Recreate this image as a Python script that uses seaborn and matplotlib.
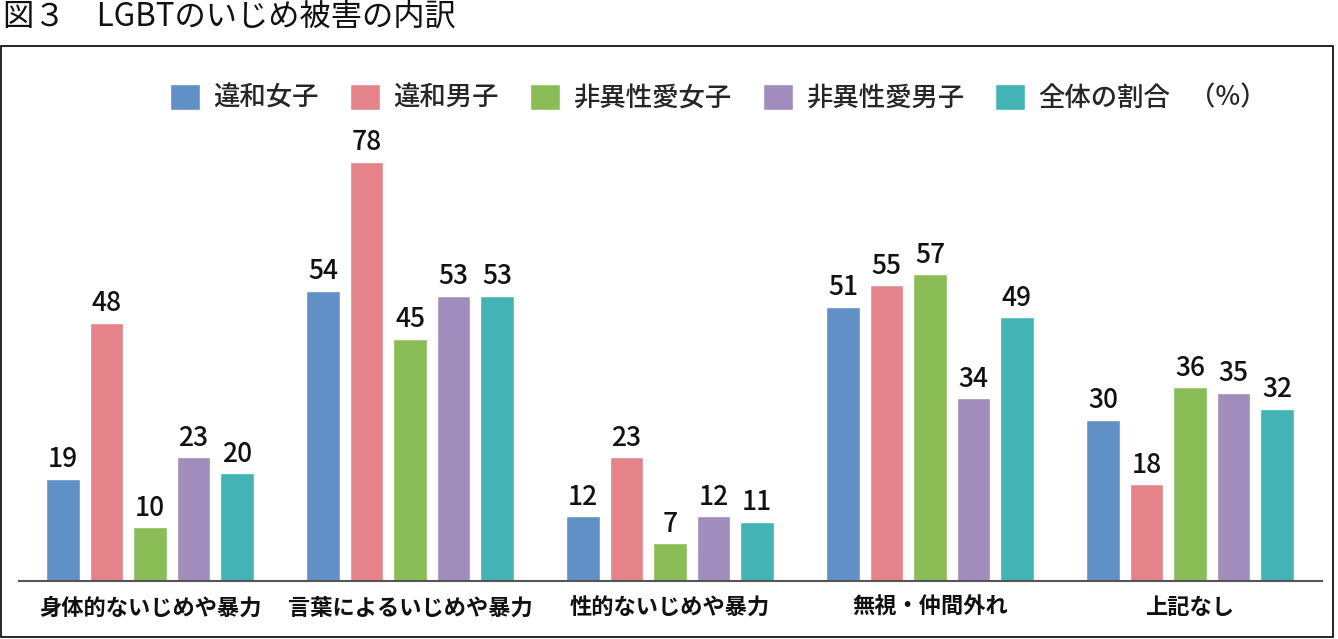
import matplotlib
matplotlib.use("Agg")
import matplotlib.pyplot as plt
from matplotlib.patches import Rectangle
import seaborn as sns
import pandas as pd

categories = ["身体的ないじめや暴力", "言葉によるいじめや暴力", "性的ないじめや暴力", "無視・仲間外れ", "上記なし"]
series = ["違和女子", "違和男子", "非異性愛女子", "非異性愛男子", "全体の割合"]
v_iwa_joshi = [19, 54, 12, 51, 30]
v_iwa_danshi = [48, 78, 23, 55, 18]
v_hi_joshi = [10, 45, 7, 57, 36]
v_hi_danshi = [23, 53, 12, 34, 35]
v_zentai = [20, 53, 11, 49, 32]
colors = ["#6190c7", "#e4838a", "#8bbd56", "#a08dbd", "#44b3b5"]
title = "図３　LGBTのいじめ被害の内訳"
unit_label = "（%）"

values = [v_iwa_joshi, v_iwa_danshi, v_hi_joshi, v_hi_danshi, v_zentai]
rows = []
for s, vals in zip(series, values):
    for c, v in zip(categories, vals):
        rows.append({"category": c, "series": s, "value": v})
df = pd.DataFrame(rows)

sns.set_theme(style="white")
plt.rcParams["font.family"] = ["Noto Sans CJK JP", "DejaVu Sans"]

W, H = 1338, 639
fig = plt.figure(figsize=(W / 100, H / 100), dpi=100)
ax_left, ax_right, ax_bottom, ax_top = 19, 1322, 581, 140
ax = fig.add_axes([ax_left / W, 1 - ax_bottom / H, (ax_right - ax_left) / W, (ax_bottom - ax_top) / H])

sns.barplot(data=df, x="category", y="value", hue="series", order=categories,
            hue_order=series, palette=colors, saturation=1, width=0.837, gap=0.23,
            ax=ax, legend=True)

for cont, vals in zip(ax.containers, values):
    ax.bar_label(cont, labels=[str(v) for v in vals], padding=4, fontsize=19,
                 fontweight="medium", color="#111111")

ax.set_xlim(-0.504, 4.508)
ax.set_ylim(0, 82)
ax.set_xlabel("")
ax.set_ylabel("")
ax.set_yticks([])
ax.tick_params(axis="x", length=0, pad=11, labelsize=16)
for lab in ax.get_xticklabels():
    lab.set_fontweight("bold")
    lab.set_color("#111111")
for side in ["top", "left", "right"]:
    ax.spines[side].set_visible(False)
ax.spines["bottom"].set_color("#555555")
ax.spines["bottom"].set_linewidth(1.5)

handles, labels = ax.get_legend_handles_labels()
ax.get_legend().remove()
fig.legend(handles, labels, loc="center left", bbox_to_anchor=(170 / W, 1 - 98 / H),
           ncol=5, frameon=False, fontsize=19, handlelength=1.14, handleheight=1.14,
           handletextpad=0.5, columnspacing=1.18, borderpad=0, borderaxespad=0,
           prop={"size": 19, "weight": "medium"})
fig.text(1189 / W, 1 - 98 / H, unit_label, fontsize=19, fontweight="medium", va="center", ha="left")

fig.text(3 / W, 1 - 17 / H, title, fontsize=22.5, va="center", ha="left", color="#111111")

fig.add_artist(Rectangle((1 / W, 1 - 637 / H), 1332 / W, 591 / H, transform=fig.transFigure,
                         fill=False, lw=1.2, ec="black"))

fig.savefig("out.png", dpi=100)
